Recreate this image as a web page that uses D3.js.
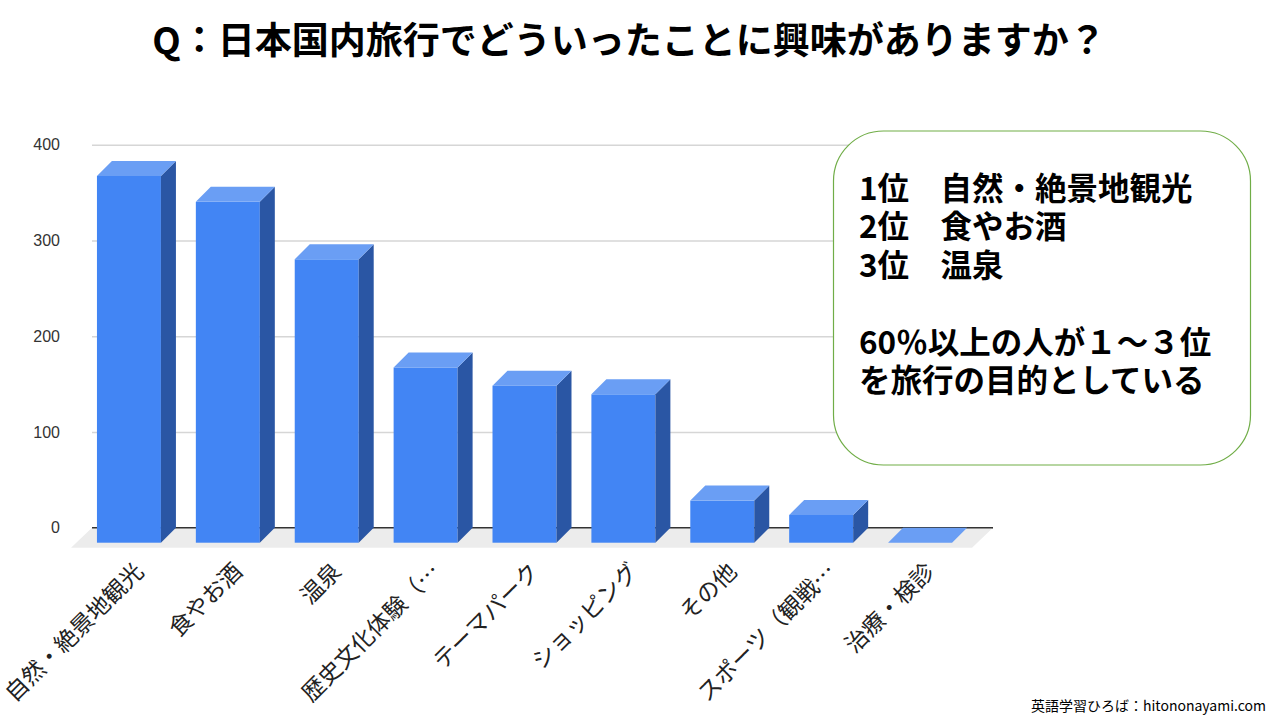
<!DOCTYPE html>
<html>
<head>
<meta charset="utf-8">
<script src="https://cdn.jsdelivr.net/npm/d3@7"></script>
<style>
  body { margin: 0; background: #fff; }
  svg { display: block; }
</style>
</head>
<body>
<div id="chart"></div>
<script>
// data
var categories = ["自然・絶景地観光", "食やお酒", "温泉", "歴史文化体験（…", "テーマパーク", "ショッピング", "その他", "スポーツ（観戦…", "治療・検診"];
var values = [383, 356, 296, 183, 164, 155, 44, 29, 0];
var yTicks = [0, 100, 200, 300, 400];
var title = "Q：日本国内旅行でどういったことに興味がありますか？";
var noteLines = ["1位　自然・絶景地観光", "2位　食やお酒", "3位　温泉", "", "60％以上の人が１～３位", "を旅行の目的としている"];
var credit = "英語学習ひろば：hitononayami.com";

var svgWidth = 1280;
var svgHeight = 720;
var depth = 15;

var svg = d3.select("#chart")
  .append("svg")
  .attr("width", svgWidth)
  .attr("height", svgHeight);

// scales (y is the back wall, bars are drawn shifted forward by depth)
var xBandScale = d3.scaleBand()
  .domain(categories)
  .range([79.5, 969.5])
  .paddingInner(0.353)
  .paddingOuter(0.1765);

var yLinearScale = d3.scaleLinear()
  .domain([0, 400])
  .range([527.7, 144.7]);

var gridLeft = 92, gridRight = 993;

// title
svg.append("text")
  .attr("x", 629)
  .attr("y", 38)
  .attr("text-anchor", "middle")
  .attr("dominant-baseline", "central")
  .style("font-family", "'Noto Sans CJK JP', 'Noto Sans', sans-serif")
  .style("font-weight", 700)
  .style("font-size", "37px")
  .attr("fill", "#000")
  .text(title);

// gridlines + tick labels
var leftAxis = d3.axisLeft(yLinearScale)
  .tickValues(yTicks)
  .tickSize(-(gridRight - gridLeft))
  .tickPadding(32);

var axisGroup = svg.append("g")
  .attr("transform", `translate(${gridLeft}, 0)`)
  .call(leftAxis);

axisGroup.select(".domain").remove();
axisGroup.selectAll(".tick line")
  .attr("stroke", "#d6d6d6")
  .attr("stroke-width", 1.5);
axisGroup.selectAll(".tick text")
  .style("font-family", "Arial, 'Liberation Sans', sans-serif")
  .style("font-size", "16px")
  .attr("fill", "#333");

// floor
var y0 = yLinearScale(0);
svg.append("polygon")
  .attr("points", [
    [gridLeft, y0], [gridRight, y0],
    [gridRight - 21, y0 + 20], [gridLeft - 21, y0 + 20]
  ].map(p => p.join(",")).join(" "))
  .attr("fill", "#ececec");

// zero line
svg.append("line")
  .attr("x1", gridLeft)
  .attr("x2", gridRight)
  .attr("y1", y0)
  .attr("y2", y0)
  .attr("stroke", "#333")
  .attr("stroke-width", 1.5);

// 3d bars
var data = categories.map((c, i) => ({ name: c, value: values[i] }));
var bw = xBandScale.bandwidth();

var bars = svg.append("g")
  .selectAll("g")
  .data(data)
  .enter()
  .append("g");

// front
bars.append("rect")
  .attr("x", d => xBandScale(d.name))
  .attr("y", d => yLinearScale(d.value) + depth)
  .attr("width", bw)
  .attr("height", d => yLinearScale(0) - yLinearScale(d.value))
  .attr("fill", "#4285f4");

// side
bars.append("polygon")
  .attr("points", function (d) {
    var x = xBandScale(d.name) + bw;
    var yt = yLinearScale(d.value) + depth;
    var yb = y0 + depth;
    return [[x, yt], [x + depth, yt - depth], [x + depth, yb - depth], [x, yb]]
      .map(p => p.join(",")).join(" ");
  })
  .attr("fill", "#2a56a4");

// top
bars.append("polygon")
  .attr("points", function (d) {
    var x = xBandScale(d.name);
    var yt = yLinearScale(d.value) + depth;
    return [[x, yt], [x + bw, yt], [x + bw + depth, yt - depth], [x + depth, yt - depth]]
      .map(p => p.join(",")).join(" ");
  })
  .attr("fill", "#6a9ef4");

// category labels
svg.append("g")
  .selectAll("text")
  .data(categories)
  .enter()
  .append("text")
  .attr("transform", d => `translate(${xBandScale(d) + bw / 2 + 16}, 573) rotate(-45)`)
  .attr("text-anchor", "end")
  .style("font-family", "'Noto Sans CJK JP', sans-serif")
  .style("font-size", "23px")
  .attr("fill", "#222")
  .text(d => d);

// note box
svg.append("rect")
  .attr("x", 833.5)
  .attr("y", 131)
  .attr("width", 417)
  .attr("height", 334)
  .attr("rx", 50)
  .attr("fill", "#fff")
  .attr("stroke", "#70ad47")
  .attr("stroke-width", 1.2);

svg.append("g")
  .selectAll("text")
  .data(noteLines)
  .enter()
  .append("text")
  .attr("x", 859)
  .attr("y", (d, i) => 186 + i * 38.4)
  .attr("dominant-baseline", "central")
  .style("font-family", "'Noto Sans CJK JP', sans-serif")
  .style("font-weight", 700)
  .style("font-size", "31.5px")
  .attr("fill", "#000")
  .text(d => d);

// credit
svg.append("text")
  .attr("x", 1266)
  .attr("y", 705)
  .attr("text-anchor", "end")
  .attr("dominant-baseline", "central")
  .style("font-family", "'Noto Sans CJK JP', sans-serif")
  .style("font-size", "14px")
  .attr("fill", "#000")
  .text(credit);
</script>
</body>
</html>
